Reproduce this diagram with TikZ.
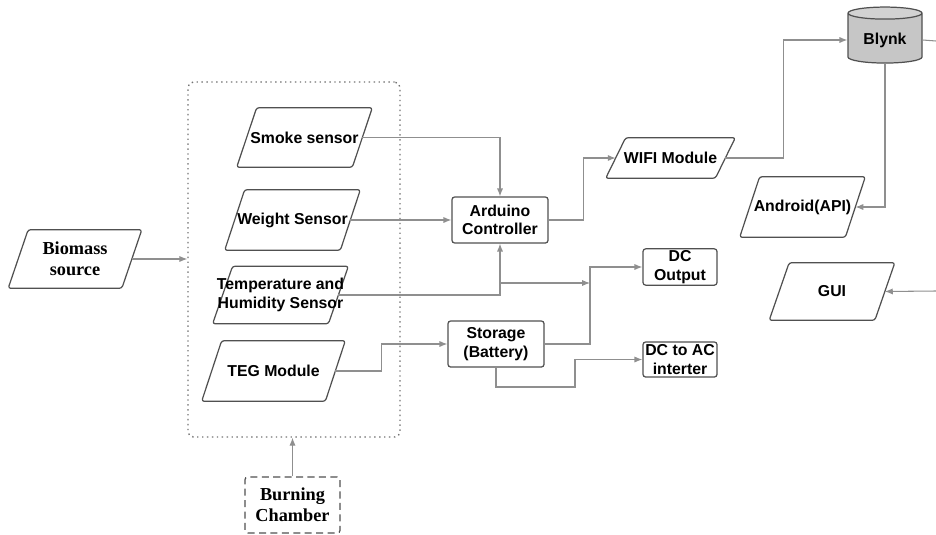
\documentclass[tikz,border=0pt]{standalone}
\usepackage{fontspec}
\setmainfont{Liberation Sans}
\newfontfamily\serifb{Liberation Serif}
\usepackage{xcolor}
\usepackage{tikz}
\usetikzlibrary{arrows.meta,positioning,shapes.geometric}

\definecolor{linegray}{HTML}{8F8F8F}
\definecolor{edgegray}{HTML}{505050}

\tikzset{paraslant/.store in=\paraslant, paraslant=0.2cm}

\begin{document}
\begin{tikzpicture}[
    x=0.02cm, y=-0.02cm,
    box/.style={draw=edgegray, rounded corners=1.5pt, line width=0.7pt, align=center, inner sep=1pt, font=\fontsize{9}{10.5}\selectfont\bfseries},
    para/.style={align=center, inner sep=0pt, font=\fontsize{9}{10.5}\selectfont\bfseries,
      append after command={\pgfextra{
        \draw[draw=edgegray, line width=0.7pt, rounded corners=1.5pt]
          ([xshift=-\paraslant]\tikzlastnode.south west) -- ([xshift=\paraslant]\tikzlastnode.north west)
          -- ([xshift=\paraslant]\tikzlastnode.north east) -- ([xshift=-\paraslant]\tikzlastnode.south east) -- cycle;}}},
    serifbox/.style={font=\serifb\fontsize{10.4}{12}\selectfont\bfseries},
    arrow/.style={-{Latex[length=4.5pt,width=3.5pt]}, draw=linegray, line width=0.6pt},
    wire/.style={draw=linegray, line width=0.6pt}
  ]
    \useasboundingbox (0,0) rectangle (936,534);

    % sources and sensor block
    \node[para, serifbox, paraslant=0.17cm, minimum width=2.26cm, minimum height=1.16cm] (bio) at (75,259) {Biomass\\source};
    \node[draw=edgegray!80, dotted, line width=0.8pt, rounded corners=3pt, minimum width=4.24cm, minimum height=7.1cm] (sensors) at (294,259.5) {};
    \node[para, minimum width=2.3cm, minimum height=1.18cm] (smoke) at (304.5,137.5) {Smoke sensor};
    \node[para, minimum width=2.3cm, minimum height=1.2cm] (weight) at (292.5,220) {Weight Sensor};
    \node[para, paraslant=0.19cm, inner xsep=-0.12cm, minimum width=2.3cm, minimum height=1.14cm] (temp) at (280.5,295) {Temperature and\\Humidity Sensor};
    \node[para, minimum width=2.46cm, minimum height=1.2cm] (teg) at (273.5,371) {TEG Module};
    \node[box, serifbox, dashed, dash pattern=on 4pt off 2.5pt, minimum width=1.9cm, minimum height=1.12cm] (burn) at (292.5,505) {Burning\\Chamber};

    % controller, storage and outputs
    \node[box, minimum width=1.92cm, minimum height=0.92cm] (ard) at (500,220) {Arduino\\Controller};
    \node[box, minimum width=1.92cm, minimum height=0.92cm] (store) at (496,344) {Storage\\(Battery)};
    \node[box, minimum width=1.48cm, minimum height=0.72cm] (dcout) at (680,267) {DC\\Output};
    \node[box, minimum width=1.48cm, minimum height=0.7cm] (dcac) at (680,359.5) {DC to AC\\interter};

    % wireless side
    \node[para, paraslant=0.14cm, minimum width=2.18cm, minimum height=0.8cm] (wifi) at (670.5,158) {WIFI Module};
    \node[draw=edgegray, cylinder, shape border rotate=90, aspect=0.22, cylinder uses custom fill, cylinder body fill=gray!45, cylinder end fill=gray!35, line width=0.7pt, minimum width=1.48cm, minimum height=1.12cm, font=\fontsize{9}{10.5}\selectfont\bfseries] (blynk) at (885,40) {Blynk};
    \node[para, paraslant=0.26cm, minimum width=2.1cm, minimum height=1.2cm] (android) at (802.5,207) {Android(API)};
    \node[para, paraslant=0.25cm, minimum width=2.1cm, minimum height=1.14cm] (gui) at (832,291.5) {GUI};

    \coordinate (jn) at (500,283);
    \coordinate (bus) at (590,283);
    \coordinate (bend) at (575,387);
    \coordinate (edgeA) at (936,41);
    \coordinate (edgeB) at (936,291);

    % connectors
    \draw[arrow] (bio.east) -- (sensors.west |- bio.east);
    \draw[arrow] (burn.north) -- (burn.north |- sensors.south);
    \draw[arrow] (smoke.east) -| (ard.north);
    \draw[arrow] (weight.east) -- (ard.west);
    \draw[arrow] (temp.east) -| (ard.south);
    \draw[arrow] (jn) -- (bus);
    \draw[arrow] (teg.east) -- ++(46,0) |- (store.west);
    \draw[arrow] (store.east) -| (bus) |- (dcout.west);
    \draw[arrow] (store.south) |- (bend) |- (dcac.west);
    \draw[arrow] (ard.east) -- ++(35,0) |- (wifi.west);
    \draw[arrow] (wifi.east) -- ++(58,0) |- (blynk.west);
    \draw[arrow] (blynk.south) |- (android.east);
    \draw[wire] (blynk.east) -- (edgeA);
    \draw[arrow] (edgeB) -- (gui.east);
  \end{tikzpicture}
\end{document}
